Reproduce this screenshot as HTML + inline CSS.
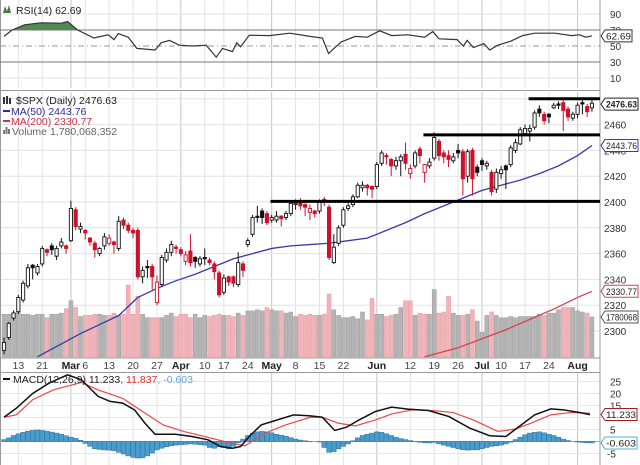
<!DOCTYPE html>
<html><head><meta charset="utf-8"><style>
html,body{margin:0;padding:0;background:#fff;}
svg{display:block;font-family:"Liberation Sans",sans-serif;}
</style></head><body>
<svg id="chart" width="640" height="465" viewBox="0 0 640 465" xmlns="http://www.w3.org/2000/svg">
<rect x="0" y="0" width="640" height="465" fill="#fff"/>
<g id="grid"></g>
<g id="rsi"></g>
<g id="vol"></g>
<g id="ma"></g>
<g id="candles"></g>
<g id="lines"></g>
<g id="macd"></g>
<g id="axes"></g>
<g id="legend">
 <text x="16" y="14" font-size="10.5" fill="#222">RSI(14) 62.69</text>
 <path d="M3 13 L5 6 L7 11 L9 5 L11 13 Z" fill="#4a7a4a"/>
 <text x="16" y="104" font-size="10.5" fill="#222">$SPX (Daily) 2476.63</text>
 <path d="M4 97 v7 M7 96 v8 M10 98 v6" stroke="#333" stroke-width="2"/>
 <line x1="3" y1="111" x2="10" y2="111" stroke="#2c2c9c" stroke-width="2"/>
 <text x="11" y="115" font-size="10.5" fill="#2c2c9c">MA(50) 2443.76</text>
 <line x1="3" y1="121" x2="10" y2="121" stroke="#d0304a" stroke-width="2"/>
 <text x="11" y="125" font-size="10.5" fill="#d0304a">MA(200) 2330.77</text>
 <path d="M4 134 v-4 M6.5 134 v-7 M9 134 v-5" stroke="#777" stroke-width="2"/>
 <text x="12" y="135" font-size="10.5" fill="#666">Volume 1,780,068,352</text>
 <line x1="3" y1="379" x2="10" y2="379" stroke="#111" stroke-width="2"/>
 <text x="13" y="383" font-size="10.5"><tspan fill="#222">MACD(12,26,9) 11.233</tspan><tspan fill="#e03030">, 11.837</tspan><tspan fill="#5aaad8">, -0.603</tspan></text>
</g>
</svg>
<script>
const closeP=[2291,2306,2314,2326,2337,2349,2349,2350,2364,2361,2363,2364,2369,2364,2395,2381,2381,2376,2369,2363,2364,2373,2372,2367,2385,2382,2378,2376,2342,2347,2349,2342,2338,2357,2361,2367,2364,2360,2359,2353,2354,2356,2356,2353,2346,2328,2341,2338,2337,2353,2347,2370,2388,2388,2388,2384,2388,2389,2387,2391,2399,2399,2397,2396,2395,2391,2401,2400,2357,2365,2380,2394,2397,2404,2413,2413,2411,2410,2429,2438,2435,2428,2432,2435,2430,2426,2438,2436,2429,2431,2450,2436,2435,2433,2435,2438,2418,2439,2418,2423,2429,2430,2408,2423,2425,2425,2442,2446,2456,2457,2457,2469,2469,2463,2466,2475,2475,2471,2466,2468,2475,2476,2470,2476.6];
const openP=[2285,2295,2310,2315,2324,2335,2351,2345,2352,2363,2366,2358,2366,2366,2370,2394,2379,2378,2372,2368,2360,2366,2368,2369,2364,2386,2382,2378,2378,2342,2350,2350,2322,2336,2355,2361,2365,2363,2354,2362,2357,2352,2357,2355,2352,2345,2330,2342,2342,2336,2352,2367,2375,2389,2393,2391,2386,2386,2389,2388,2391,2398,2399,2398,2392,2393,2393,2402,2396,2353,2368,2382,2395,2398,2404,2411,2413,2412,2412,2430,2436,2433,2428,2432,2437,2422,2428,2441,2423,2428,2434,2447,2438,2436,2432,2440,2439,2420,2440,2427,2432,2428,2423,2410,2422,2428,2429,2440,2445,2453,2455,2458,2472,2468,2468,2473,2476,2477,2472,2465,2468,2477,2474,2473];
const highP=[2295,2307,2316,2328,2339,2352,2352,2352,2366,2364,2368,2366,2372,2367,2401,2396,2384,2379,2373,2370,2365,2376,2375,2370,2389,2388,2384,2380,2380,2350,2355,2352,2343,2359,2364,2370,2367,2365,2362,2375,2358,2358,2364,2357,2354,2347,2344,2343,2343,2361,2354,2372,2390,2397,2395,2393,2390,2393,2390,2393,2401,2402,2403,2399,2398,2394,2402,2404,2398,2375,2382,2396,2399,2406,2415,2416,2414,2413,2431,2440,2438,2434,2435,2437,2446,2429,2440,2443,2425,2434,2454,2449,2440,2440,2438,2445,2441,2441,2442,2429,2434,2432,2425,2426,2428,2429,2444,2449,2458,2460,2460,2471,2475,2470,2469,2477,2478,2481,2474,2470,2477,2480,2476,2479];
const lowP=[2282,2293,2308,2313,2322,2333,2340,2343,2350,2358,2359,2355,2364,2360,2369,2378,2376,2371,2366,2357,2358,2363,2366,2360,2362,2379,2376,2372,2340,2337,2341,2332,2320,2334,2353,2358,2360,2358,2351,2350,2349,2350,2351,2351,2340,2326,2328,2335,2334,2334,2342,2365,2373,2384,2383,2382,2384,2384,2381,2386,2389,2394,2394,2389,2386,2388,2391,2397,2355,2352,2366,2380,2393,2396,2403,2408,2405,2403,2410,2428,2429,2420,2425,2420,2425,2418,2426,2430,2415,2426,2432,2432,2430,2427,2430,2434,2405,2415,2405,2420,2424,2425,2405,2407,2418,2410,2427,2438,2444,2451,2447,2456,2466,2460,2461,2472,2472,2455,2463,2463,2465,2468,2466,2470];
const volumeB=[1.9,1.9,1.95,2.0,1.9,1.9,1.85,1.9,1.9,1.75,1.9,1.9,1.95,2.15,2.5,2.2,1.8,1.85,1.85,1.9,1.9,1.85,1.85,1.95,1.85,1.9,3.2,1.9,2.7,1.9,1.75,1.75,1.75,1.75,1.85,1.95,1.8,1.9,1.9,1.75,1.9,1.75,1.85,1.8,1.85,1.9,1.85,1.85,1.8,1.95,1.85,2.05,2.05,2.1,2.05,2.2,2.1,2.05,2.05,1.95,2.0,1.8,1.9,1.85,1.9,1.85,1.85,1.9,2.8,2.1,1.85,1.75,1.75,1.8,1.7,2.0,1.65,2.6,1.9,1.9,1.8,1.85,1.9,2.2,2.5,2.5,1.85,1.95,1.9,1.9,3.0,1.95,2.0,2.7,1.95,1.85,1.85,1.9,2.1,1.6,1.1,1.85,2.0,1.85,1.75,1.75,1.8,1.75,1.8,1.8,1.8,1.8,1.9,1.85,1.95,1.95,2.1,2.2,2.2,2.2,2.05,2.0,1.95,1.78];
const ma50Days=[7,12,16,20,24,28,32,36,40,44,48,52,56,60,64,68,72,76,80,84,88,92,96,100,104,108,112,116,120,123];
const ma50Vals=[2280,2290,2298,2305,2312,2326,2333,2339,2344,2350,2356,2360,2364,2366,2367,2368,2370,2372,2378,2384,2391,2397,2403,2409,2413,2417,2422,2428,2436,2443.76];
const ma200Days=[88,95,100,105,110,115,120,123];
const ma200Vals=[2280,2287,2294,2301,2309,2317,2326,2330.77];
const rsiDays=[0,1.7,4.3,7.7,12,13.3,15.4,18.8,21.8,23,23.9,26,27.8,31.6,32.9,34.6,36.7,39.3,42.3,44.4,45.7,47.8,48.7,49.5,51.3,55.5,59.8,64,66.6,67.9,70.5,73.5,76,78.6,81.1,84.5,88,89.7,91,94.8,96.1,96.9,98.2,100.4,101.6,103.3,106,108.5,111,115.3,118.7,120.4,121.7,123];
const rsiVals=[62,70,76.5,79,78.5,80.6,70,60,64,58,65.5,61,47,45,54,57,51,50,51,36,47,43,54,49,63.5,63,66,62,60,40.6,55,62,61,69,63,64,61,68,59,58,50,57,48,53,45,51,56,63,66,66,63,64,61,62.69];
const macdDays=[0,2.6,6,9.4,13.3,16.2,19.7,22.2,24.8,27.3,29.5,31.6,35.9,39.3,42.7,45.3,47.8,49.5,51.3,53.8,57.2,60.6,64.1,66.6,69.2,71.7,74.3,77.7,81.1,84.5,88.8,93.1,97.4,101.6,105,107.6,111,114.4,117,120.4,122.6];
const macdVals=[10.1,13.9,20,24.3,27.8,25.7,18.8,16.7,16,13.2,7.6,3,3,2.1,0.7,-2.1,-2.8,-2.1,2.1,6.9,9,11.1,10.7,10.1,4.6,6,9,12.5,14.3,13.5,12.9,10.4,5.6,2.4,2.1,6,11.1,13.6,13.2,12.1,11.2];
const signalDays=[0,2.6,6,10.3,16.2,19.7,24.8,29,33.3,37.6,41.9,46.1,50.4,54.6,58.9,64.1,66.6,70,73.5,77.7,81.1,85.4,89.7,93.9,98.2,103.3,106.8,110.2,114.4,118.7,122.6];
const signalVals=[10.1,11.1,17.4,21.5,24.6,21.5,18,12.5,6.9,4.2,2.1,0,-1.8,3.5,6.9,10.1,10.1,7.6,6.5,9,11.5,13.2,12.9,12.1,9,4.2,5.1,7.6,11.1,12.1,11.8];
const histVals=[0.8,1.5,2.5,3.2,3.8,4.3,4.6,4.8,4.6,4.3,3.9,3.5,3.0,2.4,1.8,1.3,0.5,-0.8,-2,-3,-3.3,-3.5,-3.6,-3.8,-4.5,-5.2,-6.0,-6.6,-6.9,-6.8,-6.0,-4.8,-3.5,-2.8,-2.2,-1.8,-1.5,-1.3,-1.2,-1.0,-1.1,-1.3,-1.5,-2.5,-2.8,-2.2,-2.5,-3.0,-2.0,-0.5,1.0,2.5,3.5,4.0,4.2,4.0,3.6,3.0,2.6,2.2,1.6,1.0,0.6,0.3,0.1,0.0,-0.2,-2.5,-4.5,-4.2,-3.0,-2.0,-1.0,0.3,1.5,2.5,3.0,3.5,4.0,3.8,3.2,2.5,1.8,1.2,0.8,0.4,0.1,-0.3,-0.5,-0.6,-0.4,-1.0,-1.5,-2.0,-2.5,-3.0,-3.4,-3.6,-3.5,-3.5,-3.0,-2.5,-2.0,-1.8,-1.5,-1.0,-0.3,0.8,1.8,2.8,3.5,3.8,4.0,3.6,3.0,2.5,1.8,1.0,0.4,0.0,-0.2,-0.4,-0.5,-0.6];
const dateDays=[3,8,14,17,22,27,32,37,42,46,51,56,61,66,71,78,85,90,95,100,104,109,114,120];
const dateLabels=["13","21","Mar","6","13","20","27","Apr","10","17","24","May","8","15","22","Jun","12","19","26","Jul","10","17","24","Aug"];
const monthFlags=[0,0,1,0,0,0,0,1,0,0,0,1,0,0,0,1,0,0,0,1,0,0,0,1];
const priceTicks=[2300,2320,2340,2360,2380,2400,2420,2440,2460,2480];
const rsiTicks=[90,70,50,30,10];
const macdTicks=[25,20,15,10,5,0,-5];
const levelVals=[2480,2452,2400.5];
const levelStart=[111,89,57];

const NS="http://www.w3.org/2000/svg";
const X=i=>4+i*4.78;
const PY=p=>202-(p-2400)*1.29;
const RY=v=>46-(v-50)*0.8;
const MY=v=>441.5-v*2.4;
const VY=v=>357-v*22.5;
const R=600;
function mk(t,a,parent){const e=document.createElementNS(NS,t);for(const k in a)e.setAttribute(k,a[k]);parent.appendChild(e);return e;}
const G=id=>document.getElementById(id);

const grid=G('grid');
dateDays.forEach((d,k)=>{
  [[0,88],[92,357],[373,465]].forEach(([a,b])=>{
    const l=mk('line',{x1:X(d),x2:X(d),y1:a,y2:b,stroke:monthFlags[k]?'#c4c4c4':'#e2e2e2','stroke-width':1},grid);
    
    
  });
});
priceTicks.forEach(p=>{const l=mk('line',{x1:0,x2:R,y1:PY(p),y2:PY(p),stroke:'#e2e2e2'},grid);
  
  });
[90,10].forEach(v=>{const l=mk('line',{x1:0,x2:R,y1:RY(v),y2:RY(v),stroke:'#e2e2e2'},grid);
  
  });
macdTicks.forEach(v=>{const l=mk('line',{x1:0,x2:R,y1:MY(v),y2:MY(v),stroke:'#e6e6e6'},grid);
  
  });
[[0,90.5,R,90.5],[0,358,R,358],[0,372.5,R,372.5],[R,0,R,465],[0.5,0,0.5,465]].forEach(c=>{
  const l=mk('line',{x1:c[0],y1:c[1],x2:c[2],y2:c[3],stroke:'#999'},grid);
  
  
});

const rsi=G('rsi');
let l70=mk('line',{x1:0,x2:R,y1:RY(70),y2:RY(70),stroke:'#777'},rsi);


let l30=mk('line',{x1:0,x2:R,y1:RY(30),y2:RY(30),stroke:'#777'},rsi);


let l50=mk('line',{x1:0,x2:R,y1:RY(50),y2:RY(50),stroke:'#999','stroke-dasharray':'6,3,1,3'},rsi);


const rpts=rsiDays.map((d,k)=>[X(d),RY(rsiVals[k])]);
const cp=mk('clipPath',{id:'ob'},rsi);
mk('rect',{x:0,y:0,width:R,height:RY(70)},cp);
let fa=mk('path',{d:'M'+rpts[0][0]+','+RY(70)+' '+rpts.map(p=>'L'+p[0]+','+p[1]).join(' ')+' L'+rpts[rpts.length-1][0]+','+RY(70)+'Z',fill:'#4f8a4f','clip-path':'url(#ob)'},rsi);


let rl=mk('polyline',{points:rpts.map(p=>p.join(',')).join(' '),fill:'none',stroke:'#333','stroke-width':1.2},rsi);



const vol=G('vol');
volumeB.forEach((v,i)=>{
  const down=i>0&&closeP[i]<closeP[i-1];
  const r=mk('rect',{x:X(i)-2,y:VY(v),width:4,height:357-VY(v),fill:down?'#f0b4b8':'#b4b4b4',stroke:down?'#e79aa0':'#9c9c9c','stroke-width':0.5},vol);
  
  
});

const ma=G('ma');
let m50=mk('polyline',{points:ma50Days.map((d,k)=>X(d)+','+PY(ma50Vals[k])).join(' '),fill:'none',stroke:'#3a3aa8','stroke-width':1.3},ma);


let m200=mk('polyline',{points:ma200Days.map((d,k)=>X(d)+','+PY(ma200Vals[k])).join(' '),fill:'none',stroke:'#d84050','stroke-width':1.3},ma);



const cg=G('candles');
closeP.forEach((c,i)=>{
  const o=openP[i],x=X(i);
  const col=(i>0&&c<closeP[i-1])?'#d0102a':'#111';
  const w=mk('line',{x1:x,x2:x,y1:PY(highP[i]),y2:PY(lowP[i]),stroke:col,'stroke-width':1},cg);
  
  
  const top=PY(Math.max(o,c)),h=Math.max(1,Math.abs(PY(o)-PY(c)));
  const b=mk('rect',{x:x-1.6,y:top,width:3.2,height:h,fill:c>=o?'#fff':col,stroke:col,'stroke-width':0.9},cg);
  
  
});

const lg=G('lines');
levelVals.forEach((v,k)=>{
  const l=mk('line',{x1:X(levelStart[k])-6,x2:R,y1:PY(v),y2:PY(v),stroke:'#000','stroke-width':3},lg);
  
  
});

const mg=G('macd');
let zl=mk('line',{x1:0,x2:R,y1:MY(0),y2:MY(0),stroke:'#7ab8dc'},mg);


histVals.forEach((v,i)=>{
  const y0=MY(0),y1=MY(v);
  const r=mk('rect',{x:X(i)-2.4,y:Math.min(y0,y1),width:4.78,height:Math.abs(y1-y0),fill:'#4a9ccc',stroke:'#2a6f9a','stroke-width':0.5},mg);
  
  
});
let sl=mk('polyline',{points:signalDays.map((d,k)=>X(d)+','+MY(signalVals[k])).join(' '),fill:'none',stroke:'#e84848','stroke-width':1.2},mg);


let ml=mk('polyline',{points:macdDays.map((d,k)=>X(d)+','+MY(macdVals[k])).join(' '),fill:'none',stroke:'#111','stroke-width':1.5},mg);



const ax=G('axes');
function txt(x,y,s,opt){const t=mk('text',Object.assign({x:x,y:y,'font-size':10.5,fill:'#333'},opt||{}),ax);t.textContent=s;return t;}
dateDays.forEach((d,k)=>{
  const t=txt(X(d),369,dateLabels[k],{'text-anchor':'middle','font-weight':monthFlags[k]?'bold':'normal',fill:monthFlags[k]?'#222':'#444'});
  
  
});
priceTicks.slice(0,9).forEach(p=>{const t=txt(604,PY(p)+4,String(p),{'font-size':10});
  
  });
rsiTicks.forEach(v=>{const t=txt(610,RY(v)+4,String(v),{'font-size':10});
  
  });
macdTicks.filter(v=>v!==10&&v!==0).forEach(v=>{const t=txt(v<0?607:610,MY(v)+4,String(v),{'font-size':10});
  
  });
function tag(y,s,col,bold){
  const g=mk('g',{},ax);
  
  
  const w=Math.min(33,s.length*5+2);
  mk('path',{d:`M601,${y} L605,${y-6} L${605+w},${y-6} L${605+w},${y+6} L605,${y+6} Z`,fill:'#fff',stroke:col,'stroke-width':1},g);
  const t=mk('text',{x:606,y:y+3.5,'font-size':9.5,fill:'#222','font-weight':bold?'bold':'normal',textLength:w-2,lengthAdjust:'spacingAndGlyphs'},g);
  t.textContent=s;
}
tag(RY(62.69),'62.69','#333');
tag(PY(2476.63)+1,'2476.63','#222',true);
tag(PY(2443.76),'2443.76','#3a3aa8');
tag(PY(2330.77),'2330.77','#d84050');
tag(317,'1780068','#555');
tag(MY(11.233),'11.233','#a02020');
tag(MY(-0.603),'-0.603','#5aaad8');
</script>
</body></html>
